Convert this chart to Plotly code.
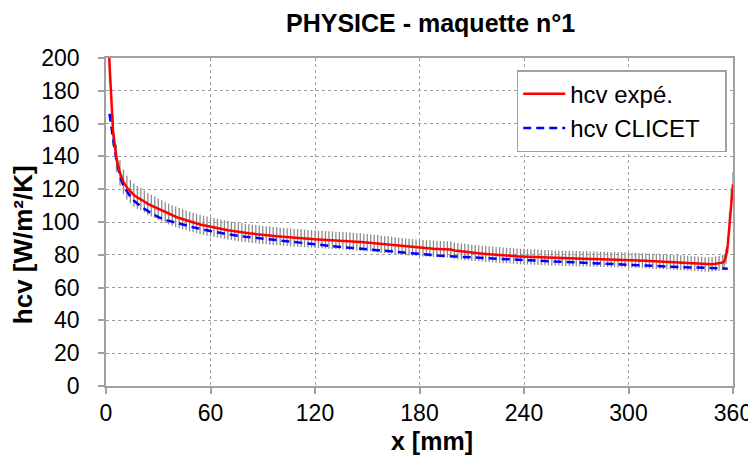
import plotly.graph_objects as go

# Experimental hcv (red), sampled every 2 mm, finer at both ends
x_exp = [1] + list(range(2, 355, 2)) + [355, 356, 357, 358, 359, 360]
hcv_exp = [
    230, 197, 156, 139, 130, 124.5, 121, 118.5, 116.5, 115, 114,
    112.5, 111, 110, 109, 107.8, 106.8, 105.8, 104.8, 104, 103.2,
    102.4, 101.7, 101, 100.3, 99.7, 99.1, 98.5, 98, 97.5, 97,
    96.6, 96.2, 95.8, 95.4, 95, 94.6, 94.3, 94, 93.7, 93.4,
    93.1, 92.8, 92.6, 92.3, 92.1, 91.9, 91.7, 91.5, 91.3, 91.1,
    90.9, 90.8, 90.6, 90.4, 90.3, 90.1, 90, 89.8, 89.7, 89.5,
    89.4, 89.3, 89.2, 89, 88.9, 88.8, 88.7, 88.6, 88.4, 88.3,
    88.1, 87.9, 87.8, 87.6, 87.4, 87.2, 87, 86.8, 86.5, 86.2,
    86.3, 85.9, 85.6, 85.3, 85.1, 84.9, 84.7, 84.5, 84.3, 84.1,
    84, 83.9, 83.8, 83.7, 83.6, 83.5, 83.4, 83.3, 83.2, 82.6,
    82.3, 82, 81.8, 81.5, 81.3, 81.1, 80.9, 80.7, 80.5, 80.4,
    80.2, 80, 79.9, 79.7, 79.6, 79.4, 79.3, 79.1, 79, 78.9,
    78.8, 78.7, 78.6, 78.5, 78.4, 78.3, 78.2, 78.1, 78, 78,
    77.9, 77.8, 77.8, 77.7, 77.6, 77.6, 77.5, 77.5, 77.4, 77.4,
    77.3, 77.3, 77.2, 77.2, 77.1, 77.1, 77, 77, 76.9, 76.8,
    76.7, 76.6, 76.5, 76.4, 76.3, 76.2, 76.1, 76, 75.9, 75.8,
    75.6, 75.5, 75.4, 75.3, 75.2, 75, 74.9, 74.8, 74.6, 74.5,
    74.3, 74.1, 74.0, 74.2, 74.5, 74.8, 75.3,
    76, 79, 86, 100, 113, 123,
]

# CLICET model hcv (blue dashed)
x_cli = [2, 3, 4, 5, 6, 7, 8, 10, 12, 14, 16, 18, 20, 25, 30, 35, 40, 45, 50,
         60, 70, 80, 90, 100, 110, 120, 130, 140, 150, 160, 170, 180, 190, 200,
         210, 220, 230, 240, 250, 260, 270, 280, 290, 300, 310, 320, 330, 340,
         350, 357]
hcv_cli = [166, 158, 150, 144, 138, 132, 128, 122, 118.5, 115.5, 113, 111, 109.5,
           106, 103, 101, 99.5, 98, 96.8, 94.5, 92.5, 91, 89.8, 88.8, 87.5, 86.3,
           85.3, 84.3, 83.3, 82.3, 81.3, 80.3, 79.6, 79, 78.3, 77.8, 77.3, 76.8,
           76.3, 75.8, 75.2, 74.6, 74.1, 73.6, 73.2, 72.8, 72.5, 72.2, 71.8, 71.5]

err_pct = 6  # measurement uncertainty, %

x_ticks = [0, 60, 120, 180, 240, 300, 360]
y_ticks = [0, 20, 40, 60, 80, 100, 120, 140, 160, 180, 200]

FONT = "Liberation Sans, Arial, sans-serif"
PAD = "\u00a0\u00a0\u00a0"  # right padding inside the legend box

fig = go.Figure()

# uncertainty bars
fig.add_trace(go.Scatter(
    x=x_exp, y=hcv_exp, mode="markers", marker=dict(size=0.1, opacity=0),
    error_y=dict(type="percent", value=err_pct, color="#8c8c8c",
                 thickness=1.3, width=0),
    showlegend=False, hoverinfo="skip"))

fig.add_trace(go.Scatter(
    x=x_cli, y=hcv_cli, mode="lines", name="hcv CLICET" + PAD,
    line=dict(color="#0000ff", width=2.5, dash="8px,5px"), legendrank=2))

fig.add_trace(go.Scatter(
    x=x_exp, y=hcv_exp, mode="lines", name="hcv expé." + PAD,
    line=dict(color="#ff0000", width=2.5), legendrank=1))

axis_common = dict(
    showline=True, linecolor="#a0a0a0", linewidth=1.5, mirror=True,
    showgrid=True, gridcolor="#a0a0a0", griddash="dot", gridwidth=1,
    ticks="outside", ticklen=6, tickcolor="#a0a0a0", tickwidth=1.5,
    tickfont=dict(family=FONT, size=23, color="black"),
    zeroline=False, automargin=False,
)

fig.update_xaxes(range=[0, 360], tickvals=x_ticks, ticklabelstandoff=0,
                 **axis_common)
fig.update_yaxes(range=[0, 200], tickvals=y_ticks, ticklabelstandoff=14,
                 **axis_common)

# the page adds an 8 px body margin, so the figure is 8 px smaller
fig.update_layout(
    width=748, height=453,
    margin=dict(l=98, r=23, t=50, b=75),
    paper_bgcolor="white", plot_bgcolor="white",
    legend=dict(x=0.990, xanchor="right", y=0.963, yanchor="top",
                bordercolor="#a0a0a0", borderwidth=1.5, bgcolor="white",
                font=dict(family=FONT, size=24, color="black"),
                itemwidth=42, tracegroupgap=4),
    showlegend=True,
    annotations=[
        dict(text="<b>PHYSICE - maquette n°1</b>", xref="paper", yref="paper",
             x=0.518, y=1.108, xanchor="center", yanchor="middle",
             showarrow=False, font=dict(family=FONT, size=25, color="black")),
        dict(text="<b>x [mm]</b>", xref="paper", yref="paper",
             x=0.520, y=-0.168, xanchor="center", yanchor="middle",
             showarrow=False, font=dict(family=FONT, size=25, color="black")),
        dict(text="<b>hcv [W/m²/K]</b>", xref="paper", yref="paper",
             x=-0.132, y=0.43, xanchor="center", yanchor="middle", textangle=-90,
             showarrow=False, font=dict(family=FONT, size=26, color="black")),
    ],
)

fig.write_html("out.html")
